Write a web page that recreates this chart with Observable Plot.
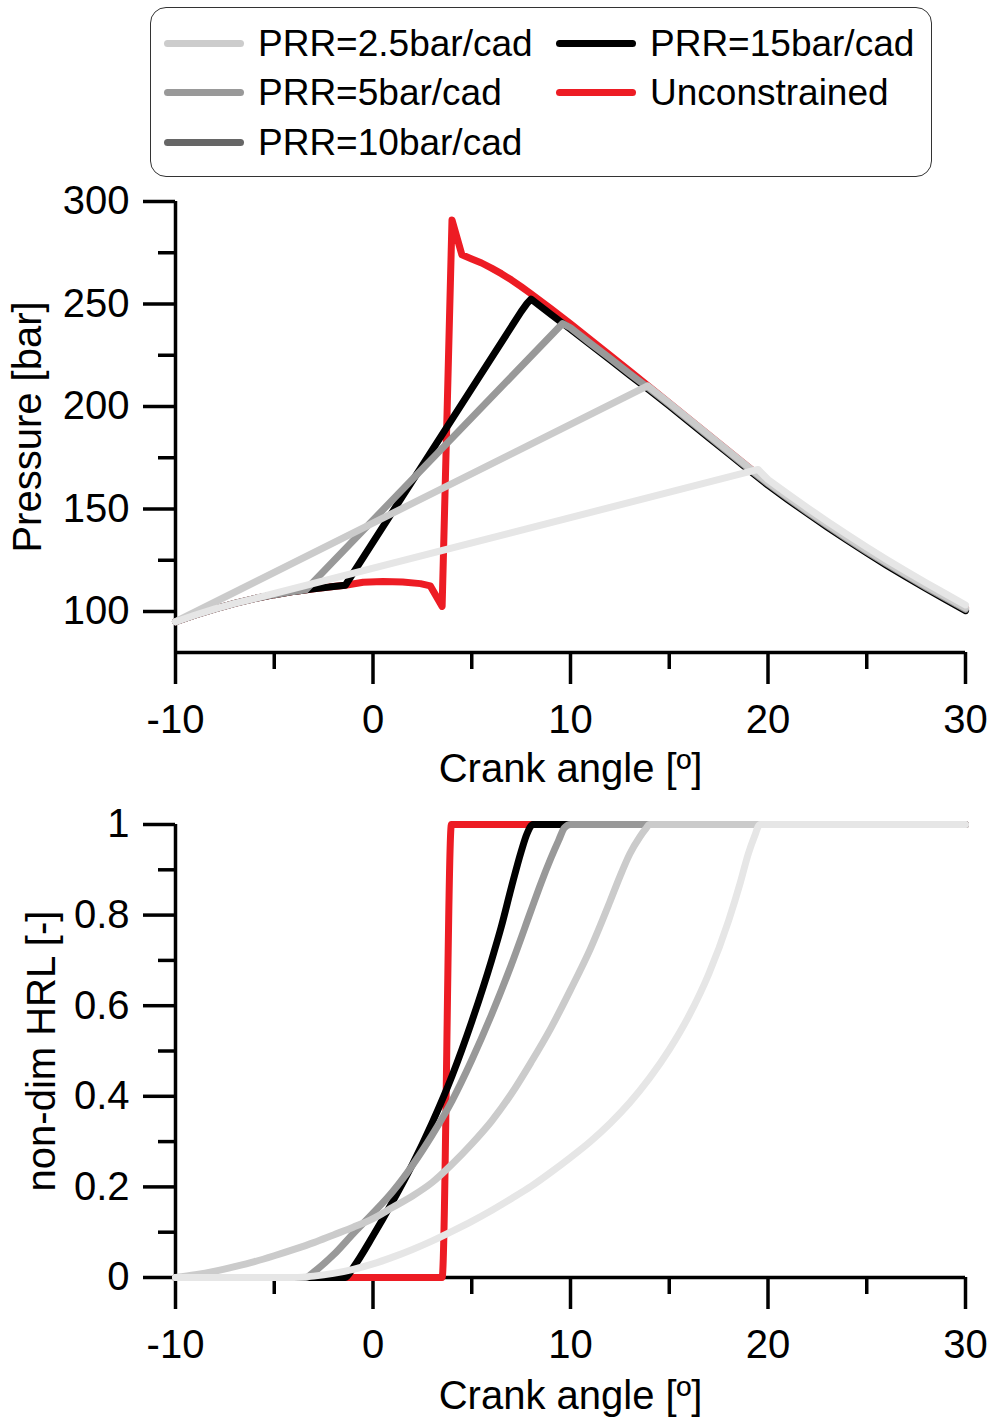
<!DOCTYPE html>
<html><head><meta charset="utf-8">
<script src="https://cdn.jsdelivr.net/npm/d3@7"></script>
<script src="https://cdn.jsdelivr.net/npm/@observablehq/plot@0.6"></script>
<style>
html,body{margin:0;padding:0;background:#fff;}
#root{position:relative;width:993px;height:1419px;font-family:"Liberation Sans",Arial,sans-serif;color:#000;}
#legend{position:absolute;left:150px;top:7px;width:782px;height:170px;border:1.5px solid #333;border-radius:16px;box-sizing:border-box;}
.item{position:absolute;display:flex;align-items:center;height:40px;font-size:37px;line-height:1;white-space:nowrap;}
.sw{width:80px;height:7px;border-radius:3.5px;margin-right:14px;flex:none;}
#plotTop,#plotBottom{position:absolute;left:0;}
#plotTop{top:180px;} #plotBottom{top:780px;}
</style></head><body>
<div id="root"><div id="legend"></div><div id="plotTop"></div><div id="plotBottom"></div></div>
<script>
// ---- series / legend ----
const seriesNames = ["PRR=2.5bar/cad", "PRR=5bar/cad", "PRR=10bar/cad", "PRR=15bar/cad", "Unconstrained"];
const lineColors = ["#e6e6e6", "#cbcbcb", "#999999", "#000000", "#ed1c24"];
const legendColors = ["#cccccc", "#999999", "#666666", "#000000", "#ed1c24"];

// ---- ticks ----
const angleMajor = [-10, 0, 10, 20, 30];
const angleMinor = [-5, 5, 15, 25];
const pressureMajor = [100, 150, 200, 250, 300];
const pressureMinor = [125, 175, 225, 275];
const hrlMajor = [0, 0.2, 0.4, 0.6, 0.8, 1];
const hrlMinor = [0.1, 0.3, 0.5, 0.7, 0.9];

// ---- pressure [bar] vs crank angle [deg] ----
const pressurePRR25 = [[-10,95],[-9,98.3],[-8,101.3],[-7,104.0],[-6,106.3],[19.5,169.3],[20,164.4],[21,157.4],[22,150.6],[23,144.0],[24,137.6],[25,131.4],[26,125.4],[27,119.6],[28,114.0],[29,108.6],[30,103.2]];
const pressurePRR5 = [[-10,95],[13.9,210.1],[15,201.7],[16,193.9],[17,186.1],[18,178.3],[19,170.5],[20,162.9],[21,155.9],[22,149.1],[23,142.5],[24,136.1],[25,129.9],[26,123.9],[27,118.1],[28,112.5],[29,107.1],[30,101.7]];
const pressurePRR10 = [[-10,95],[-9,98.3],[-8,101.3],[-7,104.0],[-6,106.3],[-5,108.2],[-4,109.8],[-3.4,110.6],[9.6,240.5],[10,238.4],[11,230.9],[12,223.5],[13,216.0],[14,208.7],[15,201.1],[16,193.3],[17,185.5],[18,177.7],[19,169.9],[20,162.3],[21,155.3],[22,148.5],[23,141.9],[24,135.5],[25,129.3],[26,123.3],[27,117.5],[28,111.9],[29,106.5],[30,101.1]];
const pressurePRR15 = [[-10,95],[-9,98.3],[-8,101.3],[-7,104.0],[-6,106.3],[-5,108.2],[-4,109.8],[-3,111.1],[-2,112.2],[-1.4,112.8],[7.5,246.3],[7.8,250.3],[8.0,252.4],[9,245.0],[10,237.7],[11,230.2],[12,222.8],[13,215.3],[14,208.0],[15,200.4],[16,192.6],[17,184.8],[18,177.0],[19,169.2],[20,161.6],[21,154.6],[22,147.8],[23,141.2],[24,134.8],[25,128.6],[26,122.6],[27,116.8],[28,111.2],[29,105.8],[30,100.4]];
const pressureUnc = [[-10,95],[-9,98.3],[-8,101.3],[-7,104.0],[-6,106.3],[-5,108.2],[-4,109.8],[-3,111.1],[-2,112.2],[-1.4,112.8],[-0.5,114.3],[0.5,114.6],[1.5,114.4],[2.4,113.6],[2.9,112.5],[3.5,102.5],[4.0,291.0],[4.5,274.0],[5,272.0],[5.5,270.0],[6,267.5],[6.5,264.8],[7,261.8],[7.5,258.5],[8,255.0],[9,247.8],[10,240.3],[11,232.7],[12,225.0],[13,217.3],[14,209.5],[15,201.7],[16,193.9],[17,186.1],[18,178.3],[19,170.5],[20,162.9],[21,155.9],[22,149.1],[23,142.5],[24,136.1],[25,129.9],[26,123.9],[27,118.1],[28,112.5],[29,107.1],[30,101.7]];

// ---- non-dimensional heat release law [-] vs crank angle [deg] ----
const hrlPRR25 = [[-10,0],[-4,0],[-3,0.003],[-2,0.009],[-1,0.018],[0,0.03],[1,0.045],[2,0.062],[3,0.081],[4,0.102],[5,0.124],[6,0.148],[7,0.174],[8,0.201],[9,0.232],[10,0.265],[11,0.300],[12,0.340],[13,0.386],[14,0.440],[15,0.503],[16,0.578],[17,0.670],[18,0.787],[18.6,0.872],[19,0.935],[19.3,0.972],[19.6,1],[30,1]];
const hrlPRR5 = [[-10,0],[-9,0.006],[-8,0.014],[-7,0.024],[-6,0.035],[-5,0.048],[-4,0.062],[-3,0.077],[-2,0.094],[-1,0.111],[0,0.13],[1,0.155],[2,0.18],[3,0.21],[4,0.25],[5,0.295],[6,0.345],[7,0.405],[8,0.475],[9,0.55],[10,0.635],[11,0.725],[12,0.83],[12.5,0.885],[13,0.935],[13.5,0.972],[13.8,0.99],[14,1],[30,1]];
const hrlPRR10 = [[-10,0],[-3.4,0],[-3,0.012],[-2,0.05],[-1,0.097],[0,0.142],[1,0.19],[2,0.248],[3,0.315],[4,0.39],[5,0.48],[6,0.58],[7,0.69],[8,0.81],[8.5,0.87],[9,0.925],[9.4,0.965],[9.7,0.993],[10,1],[30,1]];
const hrlPRR15 = [[-10,0],[-1.4,0],[-1,0.022],[0,0.092],[1,0.168],[2,0.25],[3,0.342],[4,0.445],[5,0.565],[6,0.70],[6.5,0.775],[7,0.86],[7.5,0.94],[7.8,0.98],[8.1,1],[30,1]];
const hrlUnc = [[-10,0],[3.5,0],[3.97,1],[30,1]];

const pressureSeries = [pressurePRR25, pressurePRR5, pressurePRR10, pressurePRR15, pressureUnc];
const hrlSeries = [hrlPRR25, hrlPRR5, hrlPRR10, hrlPRR15, hrlUnc];
const drawOrder = [4, 3, 2, 1, 0]; // red at the bottom, lightest on top

(function () {
  // ---- legend ----
  const legendPos = [[13,15],[13,64],[13,114],[405,15],[405,64]];
  const legend = document.getElementById("legend");
  seriesNames.forEach((name, i) => {
    const it = document.createElement("div");
    it.className = "item";
    it.style.left = legendPos[i][0] + "px";
    it.style.top = legendPos[i][1] + "px";
    const sw = document.createElement("div");
    sw.className = "sw";
    sw.style.background = legendColors[i];
    const tx = document.createElement("span");
    tx.textContent = name;
    it.appendChild(sw); it.appendChild(tx);
    legend.appendChild(it);
  });

  const font = "'Liberation Sans', Arial, sans-serif";
  const AX = 3.5;
  const fmt = d => String(d);

  function lineMarks(seriesList, curve) {
    return drawOrder.map((i) => Plot.line(seriesList[i], {
      x: d => d[0], y: d => d[1], stroke: lineColors[i], strokeWidth: 7,
      strokeLinejoin: "round", strokeLinecap: "round", curve
    }));
  }

  const pTop = Plot.plot({
    width: 993, height: 600,
    marginLeft: 175, marginRight: 28, marginTop: 21, marginBottom: 128,
    x: {domain: [-10, 30]},
    y: {domain: [80, 300]},
    style: {fontFamily: font, fontSize: "40px", color: "#000", background: "transparent", overflow: "visible"},
    marks: [
      Plot.ruleY([80], {stroke: "#000", strokeWidth: AX}),
      Plot.ruleX([-10], {y1: 80, y2: 300, stroke: "#000", strokeWidth: AX}),
      Plot.axisX(angleMajor, {tickSize: 32, tickPadding: 20, tickFormat: fmt, fontSize: 40, strokeWidth: AX, label: null}),
      Plot.axisX(angleMinor, {tickSize: 17, tickFormat: () => "", strokeWidth: AX, label: null}),
      Plot.axisY(pressureMajor, {tickSize: 32, tickPadding: 14, tickFormat: fmt, fontSize: 40, strokeWidth: AX, label: null}),
      Plot.axisY(pressureMinor, {tickSize: 17, tickFormat: () => "", strokeWidth: AX, label: null}),
      Plot.text(["Crank angle [º]"], {frameAnchor: "bottom", dy: 117, fontSize: 40, textAnchor: "middle", lineAnchor: "middle", fill: "#000"}),
      Plot.text(["Pressure [bar]"], {frameAnchor: "left", dx: -147, rotate: -90, fontSize: 40, textAnchor: "middle", lineAnchor: "middle", fill: "#000"}),
      ...lineMarks(pressureSeries, "linear")
    ]
  });
  document.getElementById("plotTop").appendChild(pTop);

  const pBottom = Plot.plot({
    width: 993, height: 639,
    marginLeft: 175, marginRight: 28, marginTop: 44, marginBottom: 142,
    x: {domain: [-10, 30]},
    y: {domain: [0, 1]},
    style: {fontFamily: font, fontSize: "40px", color: "#000", background: "transparent", overflow: "visible"},
    marks: [
      Plot.ruleY([0], {stroke: "#000", strokeWidth: AX}),
      Plot.ruleX([-10], {y1: 0, y2: 1, stroke: "#000", strokeWidth: AX}),
      Plot.axisX(angleMajor, {tickSize: 32, tickPadding: 20, tickFormat: fmt, fontSize: 40, strokeWidth: AX, label: null}),
      Plot.axisX(angleMinor, {tickSize: 17, tickFormat: () => "", strokeWidth: AX, label: null}),
      Plot.axisY(hrlMajor, {tickSize: 32, tickPadding: 14, tickFormat: fmt, fontSize: 40, strokeWidth: AX, label: null}),
      Plot.axisY(hrlMinor, {tickSize: 17, tickFormat: () => "", strokeWidth: AX, label: null}),
      Plot.text(["Crank angle [º]"], {frameAnchor: "bottom", dy: 119, fontSize: 40, textAnchor: "middle", lineAnchor: "middle", fill: "#000"}),
      Plot.text(["non-dim HRL [-]"], {frameAnchor: "left", dx: -133, rotate: -90, fontSize: 40, textAnchor: "middle", lineAnchor: "middle", fill: "#000"}),
      ...lineMarks(hrlSeries, "monotone-x")
    ]
  });
  document.getElementById("plotBottom").appendChild(pBottom);
})();
</script>
</body></html>
